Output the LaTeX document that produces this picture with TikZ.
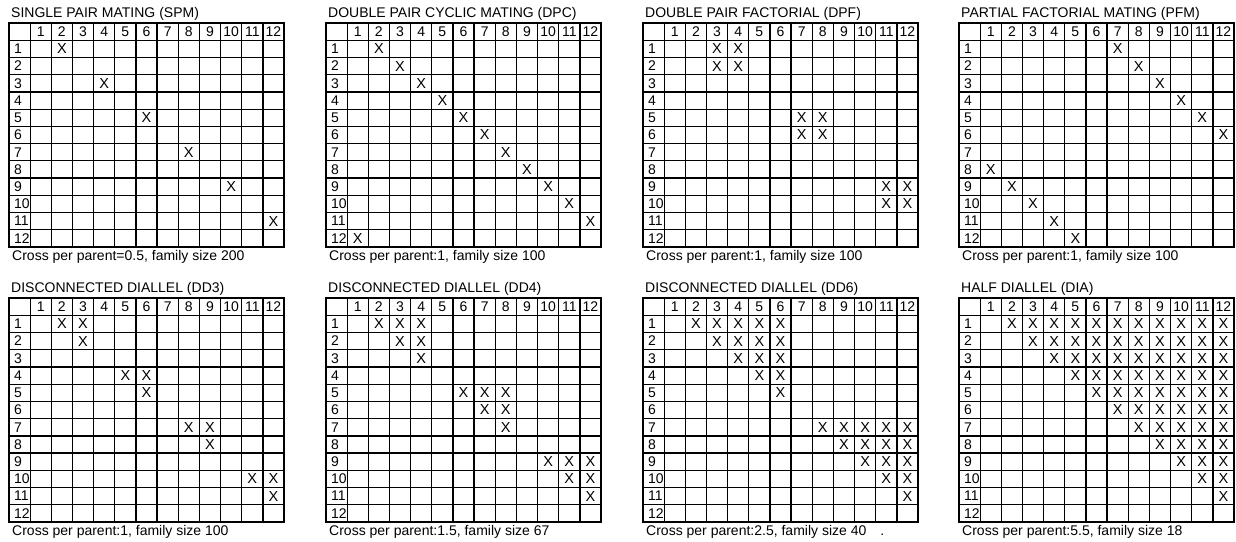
\documentclass[tikz,border=0pt]{standalone}
\usepackage{fontspec}
\setmainfont{Liberation Sans}
\usepackage{tikz}

\tikzset{
  gridline/.style={line width=1.9pt},
  cellline/.style={line width=1.3pt},
  numlab/.style={inner sep=0pt,font=\fontsize{14}{15}\selectfont},
  titlelab/.style={anchor=base west,inner sep=0pt,font=\fontsize{14}{16}\selectfont},
  xmark/.style={inner sep=0pt,font=\fontsize{14.5}{16}\selectfont}
}

% one mating table: x, y, name, title, caption, crosses
\newcommand{\matgrid}[6]{%
  \begin{scope}[shift={(#1,#2)}]
    \def\gname{#3}
    \draw[gridline] (0,0) rectangle (275,224);
    \foreach \i in {1,...,12} {
      \draw[cellline] ({\i*275/13},0) -- ({\i*275/13},224);
      \draw[cellline] (0,{\i*224/13}) -- (275,{\i*224/13});
    }
    \foreach \i in {1,...,12} {
      \node[numlab] (#3-c\i) at ({(\i+0.5)*275/13},{0.5*224/13}) {\i};
      \node[numlab,anchor=west] (#3-r\i) at (5,{(\i+0.5)*224/13}) {\i};
    }
    \node[titlelab] (#3-title) at (2,-6) {#4};
    \node[titlelab] (#3-cap) at (3,237) {#5};
    #6
  \end{scope}}

\newcommand{\mx}[2]{\node[xmark] (\gname-#1-#2) at ({(#2+0.5)*275/13},{(#1+0.5)*224/13}) {X};}

% crosses r<c inside blocks of size #1
\newcommand{\dialx}[1]{%
  \foreach \r in {1,...,12} {
    \foreach \c in {1,...,12} {
      \pgfmathtruncatemacro\ok{(\c>\r)&&(floor((\r-1)/#1)==floor((\c-1)/#1))}
      \ifnum\ok=1 \mx{\r}{\c}\fi
    }
  }}

\begin{document}
\begin{tikzpicture}[x=1pt,y=-1pt]
  \useasboundingbox (0,0) rectangle (1236,541);

  \matgrid{9}{23}{spm}{SINGLE PAIR MATING (SPM)}{Cross per parent=0.5, family size 200}
    {\foreach \r/\c in {1/2,3/4,5/6,7/8,9/10,11/12} {\mx{\r}{\c}}}
  \matgrid{326}{23}{dpc}{DOUBLE PAIR CYCLIC MATING (DPC)}{Cross per parent:1, family size 100}
    {\foreach \r in {1,...,11} {\pgfmathtruncatemacro\c{\r+1}\mx{\r}{\c}}
     \mx{12}{1}}
  \matgrid{643}{23}{dpf}{DOUBLE PAIR FACTORIAL (DPF)}{Cross per parent:1, family size 100}
    {\foreach \r/\c in {1/3,1/4,2/3,2/4,5/7,5/8,6/7,6/8,9/11,9/12,10/11,10/12} {\mx{\r}{\c}}}
  \matgrid{959}{23}{pfm}{PARTIAL FACTORIAL MATING (PFM)}{Cross per parent:1, family size 100}
    {\foreach \r/\c in {1/7,2/8,3/9,4/10,5/11,6/12,8/1,9/2,10/3,11/4,12/5} {\mx{\r}{\c}}}

  \matgrid{9}{298}{dd3}{DISCONNECTED DIALLEL (DD3)}{Cross per parent:1, family size 100}
    {\dialx{3}}
  \matgrid{326}{298}{dd4}{DISCONNECTED DIALLEL (DD4)}{Cross per parent:1.5, family size 67}
    {\dialx{4}}
  \matgrid{643}{298}{dd6}{DISCONNECTED DIALLEL (DD6)}{Cross per parent:2.5, family size 40\hspace{14pt}.}
    {\dialx{6}}
  \matgrid{959}{298}{dia}{HALF DIALLEL (DIA)}{Cross per parent:5.5, family size 18}
    {\dialx{12}}
\end{tikzpicture}
\end{document}
